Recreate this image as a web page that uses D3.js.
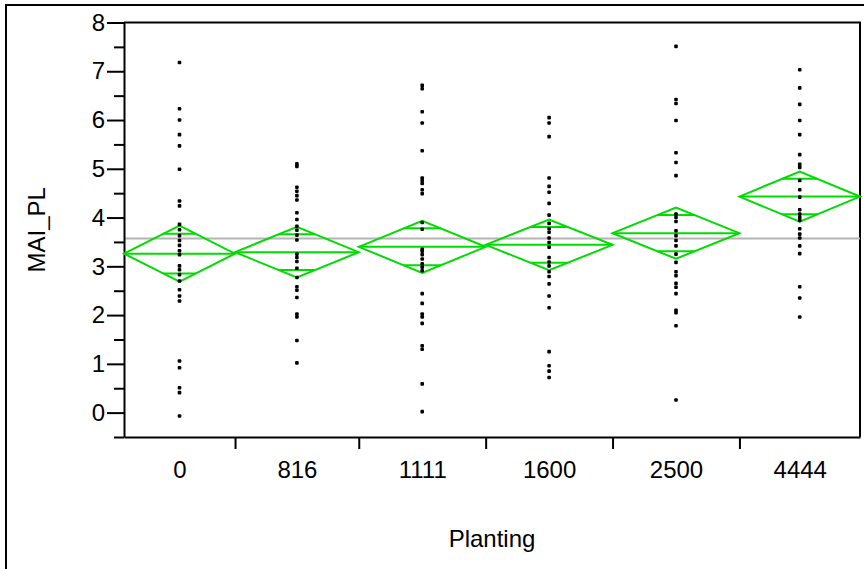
<!DOCTYPE html>
<html>
<head>
<meta charset="utf-8">
<script src="https://cdn.jsdelivr.net/npm/d3@7"></script>
<style>
  body { margin: 0; background: #fff; }
  text { font-family: "Liberation Sans", Arial, sans-serif; }
</style>
</head>
<body>
<div id="chart"></div>
<script>
// categories (planting density) and group sizes (x widths are proportional to n)
var groups = ["0", "816", "1111", "1600", "2500", "4444"];
var groupN = [35, 39, 40, 40, 40, 38];

// group means and 95% CI half widths (means diamonds)
var groupMeans = [3.26, 3.29, 3.40, 3.44, 3.68, 4.43];
var groupCI = [0.575, 0.52, 0.535, 0.52, 0.525, 0.515];
var grandMean = 3.57;

var pts0 = [7.18, 6.23, 6.00, 5.70, 5.47, 4.99, 4.34, 4.24, 3.86, 3.75, 3.63, 3.53, 3.43, 3.32,
  3.24, 3.01, 2.93, 2.83, 2.70, 2.52, 2.39, 2.29, 1.06, 0.92, 0.51, 0.41, -0.07];
var pts816 = [5.10, 5.05, 4.62, 4.54, 4.45, 4.36, 4.10, 3.96, 3.82, 3.74, 3.64, 3.54, 3.25, 3.18,
  3.10, 2.96, 2.77, 2.58, 2.51, 2.36, 2.02, 1.96, 1.48, 1.02];
var pts1111 = [6.71, 6.64, 6.17, 5.94, 5.37, 4.81, 4.76, 4.70, 4.57, 4.49, 3.90, 3.76, 3.35, 3.31,
  3.24, 3.15, 3.05, 2.98, 2.91, 2.44, 2.24, 2.02, 1.96, 1.83, 1.37, 1.30, 0.59, 0.02];
var pts1600 = [6.05, 5.94, 5.66, 4.81, 4.64, 4.52, 4.29, 4.05, 3.88, 3.77, 3.70, 3.58, 3.49, 3.39,
  3.18, 3.09, 3.01, 2.89, 2.79, 2.64, 2.39, 2.15, 1.25, 0.96, 0.85, 0.72];
var pts2500 = [7.51, 6.42, 6.34, 5.99, 5.33, 5.13, 4.86, 4.07, 4.00, 3.92, 3.73, 3.63, 3.53, 3.42,
  3.25, 3.08, 2.89, 2.81, 2.65, 2.57, 2.44, 2.10, 2.05, 1.78, 0.26];
var pts4444 = [7.03, 6.66, 6.32, 5.99, 5.70, 5.29, 5.09, 5.03, 4.76, 4.57, 4.42, 4.16, 4.07, 4.00,
  3.94, 3.77, 3.66, 3.58, 3.42, 3.26, 2.58, 2.35, 1.96];
var groupPoints = [pts0, pts816, pts1111, pts1600, pts2500, pts4444];

var yMajor = [0, 1, 2, 3, 4, 5, 6, 7, 8];
var yMinor = [-0.5, 0.5, 1.5, 2.5, 3.5, 4.5, 5.5, 6.5, 7.5];

function Plot() {
    var svgWidth = 864;
    var svgHeight = 569;
    var margin = { top: 22.5, right: 4, bottom: 132, left: 124 };
    var width = svgWidth - margin.left - margin.right;
    var height = svgHeight - margin.top - margin.bottom;
    var fontSize = "24px";

    var svg = d3.select("#chart")
        .append("svg")
        .attr("width", svgWidth)
        .attr("height", svgHeight);

    // outer report frame
    svg.append("rect")
        .attr("x", 6).attr("y", 5)
        .attr("width", svgWidth + 10).attr("height", svgHeight + 10)
        .attr("fill", "none")
        .attr("stroke", "black")
        .attr("stroke-width", 2);

    var g = svg.append("g")
        .attr("transform", `translate(${margin.left}, ${margin.top})`);

    // x positions: cumulative counts, so each group gets width proportional to n
    var total = d3.sum(groupN);
    var cum = [0];
    groupN.forEach(function(n, i) { cum.push(cum[i] + n); });

    var x = d3.scaleLinear().domain([0, total]).range([0, width]);
    var y = d3.scaleLinear().domain([-0.5, 8]).range([height, 0]);

    var centers = groups.map(function(d, i) { return (cum[i] + cum[i + 1]) / 2; });

    // frame (top and right)
    g.append("path")
        .attr("d", `M0,0H${width}V${height}`)
        .attr("fill", "none")
        .attr("stroke", "black")
        .attr("stroke-width", 2);

    // grand mean
    g.append("line")
        .attr("x1", 0).attr("x2", width)
        .attr("y1", y(grandMean)).attr("y2", y(grandMean))
        .attr("stroke", "#b4b4b4")
        .attr("stroke-width", 2);

    // y axis: minor then major ticks
    var yMinorAxis = g.append("g")
        .call(d3.axisLeft(y).tickValues(yMinor).tickSize(10).tickFormat("").tickSizeOuter(0));
    var yAxis = g.append("g")
        .call(d3.axisLeft(y).tickValues(yMajor).tickSize(17).tickPadding(2).tickSizeOuter(0));
    yMinorAxis.select(".domain").remove();
    yAxis.selectAll("line, path").attr("stroke", "black").attr("stroke-width", 2);
    yMinorAxis.selectAll("line").attr("stroke", "black").attr("stroke-width", 2);
    yAxis.attr("font-size", fontSize).attr("font-family", "Liberation Sans, Arial, sans-serif");
    yAxis.selectAll("text").attr("fill", "black");

    // x axis: ticks at group boundaries, labels at group centres
    var xTicks = g.append("g")
        .attr("transform", `translate(0, ${height})`)
        .call(d3.axisBottom(x).tickValues(cum.slice(1, -1)).tickSize(12).tickFormat("").tickSizeOuter(0));
    xTicks.selectAll("line, path").attr("stroke", "black").attr("stroke-width", 2);

    var xLabels = g.append("g")
        .attr("transform", `translate(0, ${height})`)
        .call(d3.axisBottom(x).tickValues(centers).tickSize(0).tickPadding(24)
            .tickFormat(function(d, i) { return groups[i]; }));
    xLabels.select(".domain").remove();
    xLabels.attr("font-size", fontSize).attr("font-family", "Liberation Sans, Arial, sans-serif");
    xLabels.selectAll("text").attr("fill", "black");

    // means diamonds
    var diamonds = g.append("g").attr("class", "diamonds");
    groups.forEach(function(gr, i) {
        var x0 = x(cum[i]), x1 = x(cum[i + 1]), xc = x(centers[i]);
        var m = groupMeans[i], h = groupCI[i];
        var green = "#00dc00";
        diamonds.append("path")
            .attr("d", `M${x0},${y(m)}L${xc},${y(m + h)}L${x1},${y(m)}L${xc},${y(m - h)}Z`)
            .attr("fill", "none")
            .attr("stroke", green)
            .attr("stroke-width", 2);
        diamonds.append("line")
            .attr("x1", x0).attr("x2", x1)
            .attr("y1", y(m)).attr("y2", y(m))
            .attr("stroke", green).attr("stroke-width", 2);
        // overlap marks at mean +/- h/sqrt(2)
        var half = (x1 - x0) / 2 * (1 - Math.SQRT1_2);
        [m + h * Math.SQRT1_2, m - h * Math.SQRT1_2].forEach(function(v) {
            diamonds.append("line")
                .attr("x1", xc - half).attr("x2", xc + half)
                .attr("y1", y(v)).attr("y2", y(v))
                .attr("stroke", green).attr("stroke-width", 2);
        });
    });

    // points
    groupPoints.forEach(function(vals, i) {
        g.append("g").selectAll("rect")
            .data(vals)
            .enter()
            .append("rect")
            .attr("x", x(centers[i]) - 1.8)
            .attr("y", d => y(d) - 1.8)
            .attr("width", 3.6)
            .attr("height", 3.6)
            .attr("rx", 1)
            .attr("fill", "black");
    });

    // axis titles
    g.append("text")
        .attr("transform", `translate(${width / 2}, ${height + 110})`)
        .attr("text-anchor", "middle")
        .attr("font-size", fontSize)
        .text("Planting");

    g.append("text")
        .attr("transform", `translate(${45 - margin.left}, ${height / 2}) rotate(-90)`)
        .attr("text-anchor", "middle")
        .attr("font-size", fontSize)
        .text("MAI_PL");
}

Plot();
</script>
</body>
</html>
